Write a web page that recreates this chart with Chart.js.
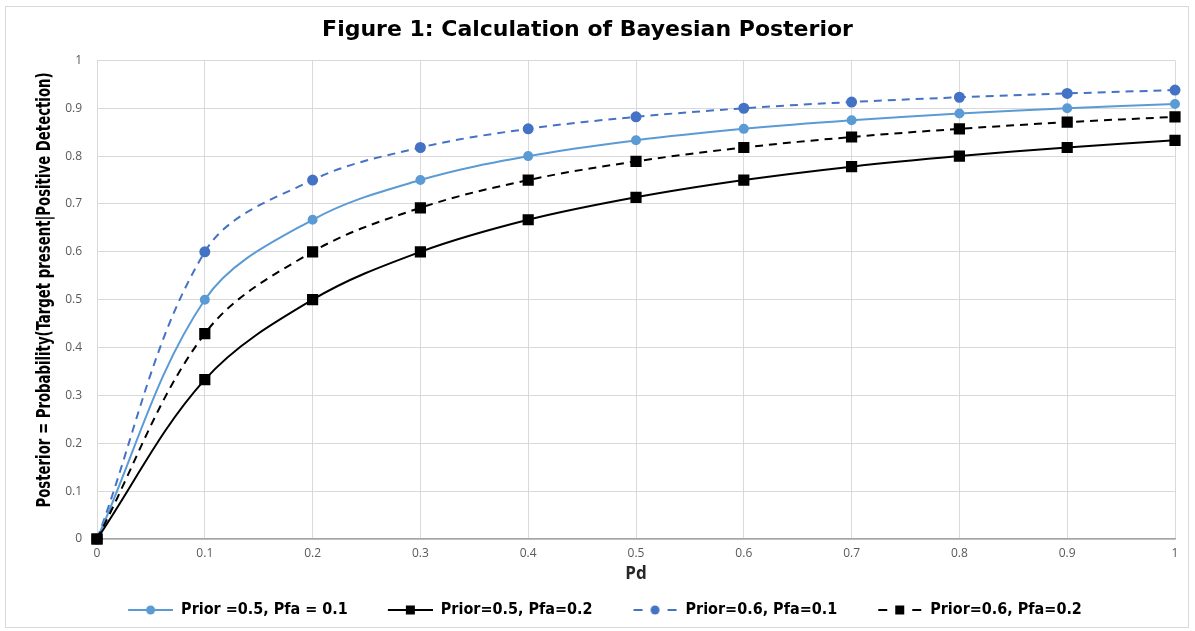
<!DOCTYPE html>
<html>
<head>
<meta charset="utf-8">
<script src="https://cdn.jsdelivr.net/npm/chart.js@4.4.1/dist/chart.umd.min.js"></script>
<style>
  html, body { margin: 0; padding: 0; background: #fff; }
  #wrap { position: relative; width: 1195px; height: 631px; }
  #frame { position: absolute; left: 5px; top: 6px; width: 1184px; height: 622px; border: 1px solid #d9d9d9; box-sizing: border-box; }
  canvas { position: absolute; left: 0; top: 0; }
</style>
</head>
<body>
<div id="wrap">
  <div id="frame"></div>
  <canvas id="chart" width="1195" height="631"></canvas>
</div>
<script>
const pd = [0, 0.1, 0.2, 0.3, 0.4, 0.5, 0.6, 0.7, 0.8, 0.9, 1];
const prior05pfa01 = [0, 0.5, 0.667, 0.75, 0.8, 0.833, 0.857, 0.875, 0.889, 0.9, 0.909];
const prior05pfa02 = [0, 0.333, 0.5, 0.6, 0.667, 0.714, 0.75, 0.778, 0.8, 0.818, 0.833];
const prior06pfa01 = [0, 0.6, 0.75, 0.818, 0.857, 0.882, 0.9, 0.913, 0.923, 0.931, 0.938];
const prior06pfa02 = [0, 0.429, 0.6, 0.692, 0.75, 0.789, 0.818, 0.84, 0.857, 0.871, 0.882];
const seriesLabels = ['Prior =0.5, Pfa = 0.1', 'Prior=0.5, Pfa=0.2', 'Prior=0.6, Pfa=0.1', 'Prior=0.6, Pfa=0.2'];
const yTitle = 'Posterior = Probability(Target present|Positive Detection)';

const narrow = "'Liberation Sans Narrow', 'DejaVu Sans Condensed', sans-serif";
const LIGHT_BLUE = '#5B9BD5';
const BLUE = '#4472C4';
const BLACK = '#000000';

const toXY = vals => vals.map((v, i) => ({ x: pd[i], y: v }));

// legend swatch: transparent gap on the left, then a line with the marker in the middle
const GAP = 35, SW = 45;
function swatch(color, dash, marker) {
  const c = document.createElement('canvas');
  c.width = GAP + SW; c.height = 14;
  const g = c.getContext('2d');
  g.strokeStyle = color;
  g.lineWidth = 2;
  g.beginPath();
  if (dash) {
    g.moveTo(GAP + 1, 7); g.lineTo(GAP + 10, 7);
    g.moveTo(GAP + SW - 10, 7); g.lineTo(GAP + SW - 1, 7);
  } else {
    g.moveTo(GAP, 7); g.lineTo(GAP + SW, 7);
  }
  g.stroke();
  g.fillStyle = color;
  const cx = GAP + SW / 2;
  if (marker === 'circle') {
    g.beginPath(); g.arc(cx, 7, 4.5, 0, Math.PI * 2); g.fill();
  } else {
    g.fillRect(cx - 4.5, 2.5, 9, 9);
  }
  return c;
}

const swatches = [
  swatch(LIGHT_BLUE, false, 'circle'),
  swatch(BLACK, false, 'rect'),
  swatch(BLUE, true, 'circle'),
  swatch(BLACK, true, 'rect')
];

// rotated y title squeezed to the length it has in the picture
const yTitlePlugin = {
  id: 'yTitle',
  afterDraw(chart) {
    const g = chart.ctx;
    g.save();
    g.font = "bold 19px " + narrow;
    const w = g.measureText(yTitle).width;
    g.translate(45, 290);
    g.rotate(-Math.PI / 2);
    g.scale(435 / w, 1);
    g.fillStyle = '#000';
    g.textAlign = 'center';
    g.textBaseline = 'middle';
    g.fillText(yTitle, 0, 0);
    g.restore();
  }
};

const ctx = document.getElementById('chart').getContext('2d');
new Chart(ctx, {
  type: 'line',
  data: {
    datasets: [
      {
        label: seriesLabels[0],
        data: toXY(prior05pfa01),
        borderColor: LIGHT_BLUE,
        backgroundColor: LIGHT_BLUE,
        borderWidth: 2,
        pointStyle: 'circle',
        pointRadius: 4,
        tension: 0.35,
        clip: false,
        order: 3
      },
      {
        label: seriesLabels[1],
        data: toXY(prior05pfa02),
        borderColor: BLACK,
        backgroundColor: BLACK,
        borderWidth: 2,
        pointStyle: 'rect',
        pointRadius: 6.5,
        tension: 0.35,
        clip: false,
        order: 1
      },
      {
        label: seriesLabels[2],
        data: toXY(prior06pfa01),
        borderColor: BLUE,
        backgroundColor: BLUE,
        borderWidth: 2,
        borderDash: [8, 6],
        pointStyle: 'circle',
        pointRadius: 4.5,
        tension: 0.35,
        clip: false,
        order: 4
      },
      {
        label: seriesLabels[3],
        data: toXY(prior06pfa02),
        borderColor: BLACK,
        backgroundColor: BLACK,
        borderWidth: 2,
        borderDash: [8, 6],
        pointStyle: 'rect',
        pointRadius: 6.5,
        tension: 0.35,
        clip: false,
        order: 2
      }
    ]
  },
  options: {
    responsive: false,
    animation: false,
    layout: { padding: { left: 0, right: 20, top: 0, bottom: 3 } },
    plugins: {
      title: {
        display: true,
        text: 'Figure 1: Calculation of Bayesian Posterior',
        color: '#000',
        font: { family: "'DejaVu Sans', sans-serif", size: 22, weight: 'bold' },
        padding: { top: 17, bottom: 17 }
      },
      legend: {
        position: 'bottom',
        labels: {
          usePointStyle: true,
          pointStyleWidth: GAP + SW,
          color: '#000',
          font: { family: narrow, size: 16, weight: 'bold' },
          padding: 5,
          generateLabels(chart) {
            return chart.data.datasets.map((ds, i) => ({
              text: ds.label,
              pointStyle: swatches[i],
              fillStyle: ds.borderColor,
              strokeStyle: ds.borderColor,
              lineWidth: 0,
              fontColor: '#000',
              datasetIndex: i,
              hidden: false
            }));
          }
        }
      },
      tooltip: { enabled: false }
    },
    scales: {
      x: {
        type: 'linear',
        min: 0,
        max: 1,
        ticks: {
          stepSize: 0.1,
          color: '#595959',
          font: { family: "'Open Sans', sans-serif", size: 12 },
          padding: 7,
          callback: v => String(Number(v.toFixed(1)))
        },
        grid: { color: '#d9d9d9', drawTicks: false },
        border: { color: '#a6a6a6', width: 1.5 },
        title: {
          display: true,
          text: 'Pd',
          color: '#262626',
          font: { family: "'Open Sans', sans-serif", size: 17, weight: 'bold' },
          padding: { top: 0, bottom: 13 }
        },
        afterFit(scale) { scale.height = 58; }
      },
      y: {
        min: 0,
        max: 1,
        ticks: {
          stepSize: 0.1,
          color: '#595959',
          font: { family: "'Open Sans', sans-serif", size: 12 },
          padding: 15,
          callback: v => String(Number(v.toFixed(1)))
        },
        grid: { color: '#d9d9d9', drawTicks: false },
        border: { display: false },
        afterFit(scale) { scale.width = 97; }
      }
    }
  },
  plugins: [yTitlePlugin]
});
</script>
</body>
</html>
